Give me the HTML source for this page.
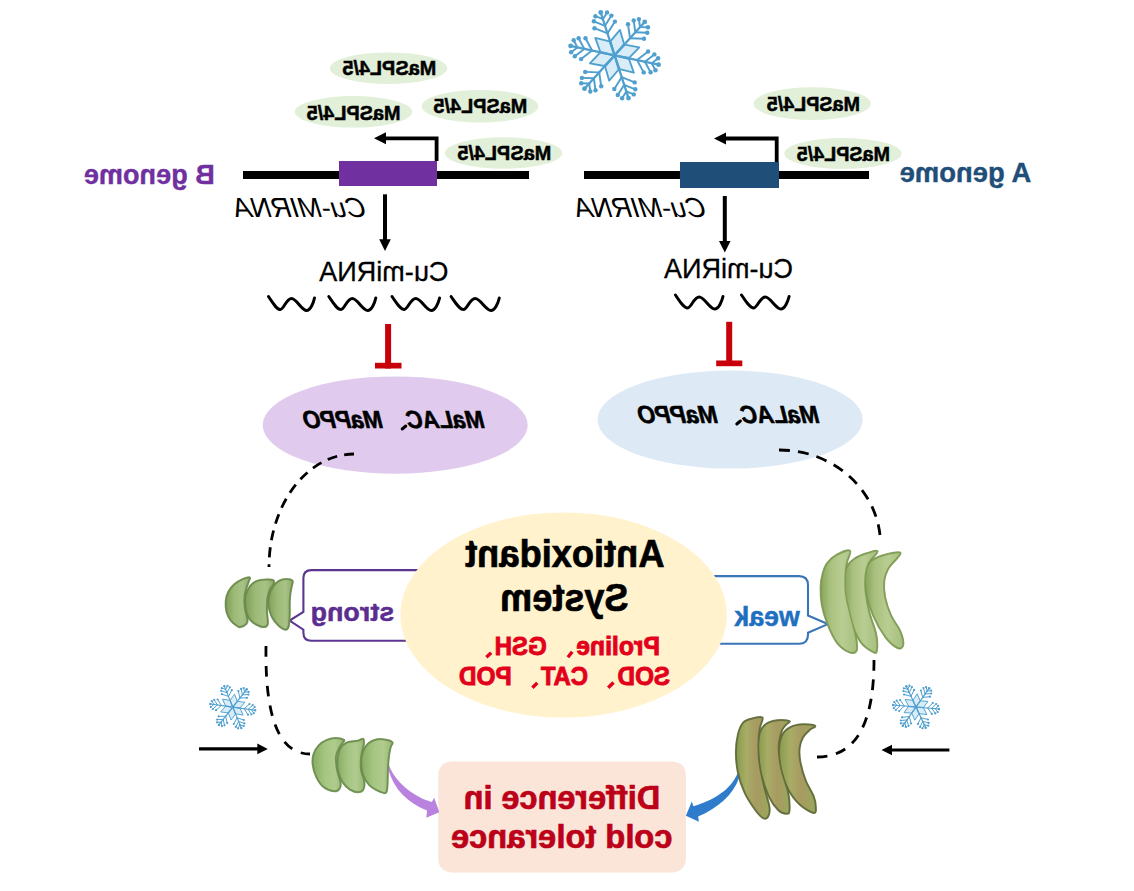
<!DOCTYPE html>
<html><head><meta charset="utf-8"><style>
html,body{margin:0;padding:0;background:#fff;}
svg{display:block;font-family:"Liberation Sans",sans-serif;}
</style></head><body>
<svg width="1134" height="891" viewBox="0 0 1134 891">
<rect width="1134" height="891" fill="#fff"/>
<path d="M614.6,55.3 L619.6,69.2 L633.9,72.7 L628.9,58.8 Z" fill="#d9edf8" stroke="#4f9fcf" stroke-width="1.84" stroke-linejoin="round"/>
<path d="M614.6,55.3 L605.1,66.6 L609.2,80.7 L618.7,69.5 Z" fill="#d9edf8" stroke="#4f9fcf" stroke-width="1.84" stroke-linejoin="round"/>
<path d="M614.6,55.3 L600.1,52.7 L589.9,63.3 L604.4,66.0 Z" fill="#d9edf8" stroke="#4f9fcf" stroke-width="1.84" stroke-linejoin="round"/>
<path d="M614.6,55.3 L609.6,41.4 L595.3,37.9 L600.3,51.8 Z" fill="#d9edf8" stroke="#4f9fcf" stroke-width="1.84" stroke-linejoin="round"/>
<path d="M614.6,55.3 L624.1,44.0 L620.0,29.9 L610.5,41.1 Z" fill="#d9edf8" stroke="#4f9fcf" stroke-width="1.84" stroke-linejoin="round"/>
<path d="M614.6,55.3 L629.1,57.9 L639.3,47.3 L624.8,44.6 Z" fill="#d9edf8" stroke="#4f9fcf" stroke-width="1.84" stroke-linejoin="round"/>
<line x1="614.6" y1="55.3" x2="658.6" y2="64.7" stroke="#4f9fcf" stroke-width="2.30" stroke-linecap="round"/>
<circle cx="658.6" cy="64.7" r="2.40" fill="#4f9fcf"/>
<line x1="637.1" y1="60.1" x2="643.7" y2="72.4" stroke="#4f9fcf" stroke-width="1.95" stroke-linecap="round"/>
<circle cx="643.7" cy="72.4" r="2.20" fill="#4f9fcf"/>
<line x1="637.1" y1="60.1" x2="648.1" y2="51.5" stroke="#4f9fcf" stroke-width="1.95" stroke-linecap="round"/>
<circle cx="648.1" cy="51.5" r="2.20" fill="#4f9fcf"/>
<line x1="644.9" y1="61.7" x2="650.6" y2="72.3" stroke="#4f9fcf" stroke-width="1.95" stroke-linecap="round"/>
<circle cx="650.6" cy="72.3" r="2.20" fill="#4f9fcf"/>
<line x1="644.9" y1="61.7" x2="654.4" y2="54.4" stroke="#4f9fcf" stroke-width="1.95" stroke-linecap="round"/>
<circle cx="654.4" cy="54.4" r="2.20" fill="#4f9fcf"/>
<line x1="651.8" y1="63.2" x2="655.5" y2="70.3" stroke="#4f9fcf" stroke-width="1.95" stroke-linecap="round"/>
<circle cx="655.5" cy="70.3" r="2.20" fill="#4f9fcf"/>
<line x1="651.8" y1="63.2" x2="658.1" y2="58.3" stroke="#4f9fcf" stroke-width="1.95" stroke-linecap="round"/>
<circle cx="658.1" cy="58.3" r="2.20" fill="#4f9fcf"/>
<line x1="614.6" y1="55.3" x2="628.5" y2="98.1" stroke="#4f9fcf" stroke-width="2.30" stroke-linecap="round"/>
<circle cx="628.5" cy="98.1" r="2.40" fill="#4f9fcf"/>
<line x1="621.7" y1="77.2" x2="614.3" y2="89.0" stroke="#4f9fcf" stroke-width="1.95" stroke-linecap="round"/>
<circle cx="614.3" cy="89.0" r="2.20" fill="#4f9fcf"/>
<line x1="621.7" y1="77.2" x2="634.7" y2="82.4" stroke="#4f9fcf" stroke-width="1.95" stroke-linecap="round"/>
<circle cx="634.7" cy="82.4" r="2.20" fill="#4f9fcf"/>
<line x1="624.2" y1="84.8" x2="617.8" y2="95.0" stroke="#4f9fcf" stroke-width="1.95" stroke-linecap="round"/>
<circle cx="617.8" cy="95.0" r="2.20" fill="#4f9fcf"/>
<line x1="624.2" y1="84.8" x2="635.3" y2="89.3" stroke="#4f9fcf" stroke-width="1.95" stroke-linecap="round"/>
<circle cx="635.3" cy="89.3" r="2.20" fill="#4f9fcf"/>
<line x1="626.3" y1="91.4" x2="622.1" y2="98.2" stroke="#4f9fcf" stroke-width="1.95" stroke-linecap="round"/>
<circle cx="622.1" cy="98.2" r="2.20" fill="#4f9fcf"/>
<line x1="626.3" y1="91.4" x2="633.8" y2="94.4" stroke="#4f9fcf" stroke-width="1.95" stroke-linecap="round"/>
<circle cx="633.8" cy="94.4" r="2.20" fill="#4f9fcf"/>
<line x1="614.6" y1="55.3" x2="584.5" y2="88.7" stroke="#4f9fcf" stroke-width="2.30" stroke-linecap="round"/>
<circle cx="584.5" cy="88.7" r="2.40" fill="#4f9fcf"/>
<line x1="599.2" y1="72.4" x2="585.2" y2="71.9" stroke="#4f9fcf" stroke-width="1.95" stroke-linecap="round"/>
<circle cx="585.2" cy="71.9" r="2.20" fill="#4f9fcf"/>
<line x1="599.2" y1="72.4" x2="601.2" y2="86.3" stroke="#4f9fcf" stroke-width="1.95" stroke-linecap="round"/>
<circle cx="601.2" cy="86.3" r="2.20" fill="#4f9fcf"/>
<line x1="593.9" y1="78.3" x2="581.9" y2="77.9" stroke="#4f9fcf" stroke-width="1.95" stroke-linecap="round"/>
<circle cx="581.9" cy="77.9" r="2.20" fill="#4f9fcf"/>
<line x1="593.9" y1="78.3" x2="595.5" y2="90.2" stroke="#4f9fcf" stroke-width="1.95" stroke-linecap="round"/>
<circle cx="595.5" cy="90.2" r="2.20" fill="#4f9fcf"/>
<line x1="589.2" y1="83.5" x2="581.2" y2="83.3" stroke="#4f9fcf" stroke-width="1.95" stroke-linecap="round"/>
<circle cx="581.2" cy="83.3" r="2.20" fill="#4f9fcf"/>
<line x1="589.2" y1="83.5" x2="590.3" y2="91.5" stroke="#4f9fcf" stroke-width="1.95" stroke-linecap="round"/>
<circle cx="590.3" cy="91.5" r="2.20" fill="#4f9fcf"/>
<line x1="614.6" y1="55.3" x2="570.6" y2="45.9" stroke="#4f9fcf" stroke-width="2.30" stroke-linecap="round"/>
<circle cx="570.6" cy="45.9" r="2.40" fill="#4f9fcf"/>
<line x1="592.1" y1="50.5" x2="585.5" y2="38.2" stroke="#4f9fcf" stroke-width="1.95" stroke-linecap="round"/>
<circle cx="585.5" cy="38.2" r="2.20" fill="#4f9fcf"/>
<line x1="592.1" y1="50.5" x2="581.1" y2="59.1" stroke="#4f9fcf" stroke-width="1.95" stroke-linecap="round"/>
<circle cx="581.1" cy="59.1" r="2.20" fill="#4f9fcf"/>
<line x1="584.3" y1="48.9" x2="578.6" y2="38.3" stroke="#4f9fcf" stroke-width="1.95" stroke-linecap="round"/>
<circle cx="578.6" cy="38.3" r="2.20" fill="#4f9fcf"/>
<line x1="584.3" y1="48.9" x2="574.8" y2="56.2" stroke="#4f9fcf" stroke-width="1.95" stroke-linecap="round"/>
<circle cx="574.8" cy="56.2" r="2.20" fill="#4f9fcf"/>
<line x1="577.4" y1="47.4" x2="573.7" y2="40.3" stroke="#4f9fcf" stroke-width="1.95" stroke-linecap="round"/>
<circle cx="573.7" cy="40.3" r="2.20" fill="#4f9fcf"/>
<line x1="577.4" y1="47.4" x2="571.1" y2="52.3" stroke="#4f9fcf" stroke-width="1.95" stroke-linecap="round"/>
<circle cx="571.1" cy="52.3" r="2.20" fill="#4f9fcf"/>
<line x1="614.6" y1="55.3" x2="600.7" y2="12.5" stroke="#4f9fcf" stroke-width="2.30" stroke-linecap="round"/>
<circle cx="600.7" cy="12.5" r="2.40" fill="#4f9fcf"/>
<line x1="607.5" y1="33.4" x2="614.9" y2="21.6" stroke="#4f9fcf" stroke-width="1.95" stroke-linecap="round"/>
<circle cx="614.9" cy="21.6" r="2.20" fill="#4f9fcf"/>
<line x1="607.5" y1="33.4" x2="594.5" y2="28.2" stroke="#4f9fcf" stroke-width="1.95" stroke-linecap="round"/>
<circle cx="594.5" cy="28.2" r="2.20" fill="#4f9fcf"/>
<line x1="605.0" y1="25.8" x2="611.4" y2="15.6" stroke="#4f9fcf" stroke-width="1.95" stroke-linecap="round"/>
<circle cx="611.4" cy="15.6" r="2.20" fill="#4f9fcf"/>
<line x1="605.0" y1="25.8" x2="593.9" y2="21.3" stroke="#4f9fcf" stroke-width="1.95" stroke-linecap="round"/>
<circle cx="593.9" cy="21.3" r="2.20" fill="#4f9fcf"/>
<line x1="602.9" y1="19.2" x2="607.1" y2="12.4" stroke="#4f9fcf" stroke-width="1.95" stroke-linecap="round"/>
<circle cx="607.1" cy="12.4" r="2.20" fill="#4f9fcf"/>
<line x1="602.9" y1="19.2" x2="595.4" y2="16.2" stroke="#4f9fcf" stroke-width="1.95" stroke-linecap="round"/>
<circle cx="595.4" cy="16.2" r="2.20" fill="#4f9fcf"/>
<line x1="614.6" y1="55.3" x2="644.7" y2="21.9" stroke="#4f9fcf" stroke-width="2.30" stroke-linecap="round"/>
<circle cx="644.7" cy="21.9" r="2.40" fill="#4f9fcf"/>
<line x1="630.0" y1="38.2" x2="644.0" y2="38.7" stroke="#4f9fcf" stroke-width="1.95" stroke-linecap="round"/>
<circle cx="644.0" cy="38.7" r="2.20" fill="#4f9fcf"/>
<line x1="630.0" y1="38.2" x2="628.0" y2="24.3" stroke="#4f9fcf" stroke-width="1.95" stroke-linecap="round"/>
<circle cx="628.0" cy="24.3" r="2.20" fill="#4f9fcf"/>
<line x1="635.3" y1="32.3" x2="647.3" y2="32.7" stroke="#4f9fcf" stroke-width="1.95" stroke-linecap="round"/>
<circle cx="647.3" cy="32.7" r="2.20" fill="#4f9fcf"/>
<line x1="635.3" y1="32.3" x2="633.7" y2="20.4" stroke="#4f9fcf" stroke-width="1.95" stroke-linecap="round"/>
<circle cx="633.7" cy="20.4" r="2.20" fill="#4f9fcf"/>
<line x1="640.0" y1="27.1" x2="648.0" y2="27.3" stroke="#4f9fcf" stroke-width="1.95" stroke-linecap="round"/>
<circle cx="648.0" cy="27.3" r="2.20" fill="#4f9fcf"/>
<line x1="640.0" y1="27.1" x2="638.9" y2="19.1" stroke="#4f9fcf" stroke-width="1.95" stroke-linecap="round"/>
<circle cx="638.9" cy="19.1" r="2.20" fill="#4f9fcf"/>
<path d="M232.8,707.1 L235.8,713.9 L243.1,715.1 L240.1,708.3 Z" fill="#d9edf8" stroke="#4f9fcf" stroke-width="0.92" stroke-linejoin="round"/>
<path d="M232.8,707.1 L228.4,713.1 L231.0,720.0 L235.4,714.1 Z" fill="#d9edf8" stroke="#4f9fcf" stroke-width="0.92" stroke-linejoin="round"/>
<path d="M232.8,707.1 L225.4,706.3 L220.7,712.0 L228.1,712.8 Z" fill="#d9edf8" stroke="#4f9fcf" stroke-width="0.92" stroke-linejoin="round"/>
<path d="M232.8,707.1 L229.8,700.3 L222.5,699.1 L225.5,705.9 Z" fill="#d9edf8" stroke="#4f9fcf" stroke-width="0.92" stroke-linejoin="round"/>
<path d="M232.8,707.1 L237.2,701.1 L234.6,694.2 L230.2,700.1 Z" fill="#d9edf8" stroke="#4f9fcf" stroke-width="0.92" stroke-linejoin="round"/>
<path d="M232.8,707.1 L240.2,707.9 L244.9,702.2 L237.5,701.4 Z" fill="#d9edf8" stroke="#4f9fcf" stroke-width="0.92" stroke-linejoin="round"/>
<line x1="232.8" y1="707.1" x2="255.2" y2="710.2" stroke="#4f9fcf" stroke-width="1.16" stroke-linecap="round"/>
<circle cx="255.2" cy="710.2" r="1.21" fill="#4f9fcf"/>
<line x1="244.2" y1="708.7" x2="248.0" y2="714.7" stroke="#4f9fcf" stroke-width="0.98" stroke-linecap="round"/>
<circle cx="248.0" cy="714.7" r="1.10" fill="#4f9fcf"/>
<line x1="244.2" y1="708.7" x2="249.5" y2="704.0" stroke="#4f9fcf" stroke-width="0.98" stroke-linecap="round"/>
<circle cx="249.5" cy="704.0" r="1.10" fill="#4f9fcf"/>
<line x1="248.2" y1="709.3" x2="251.4" y2="714.4" stroke="#4f9fcf" stroke-width="0.98" stroke-linecap="round"/>
<circle cx="251.4" cy="714.4" r="1.10" fill="#4f9fcf"/>
<line x1="248.2" y1="709.3" x2="252.7" y2="705.2" stroke="#4f9fcf" stroke-width="0.98" stroke-linecap="round"/>
<circle cx="252.7" cy="705.2" r="1.10" fill="#4f9fcf"/>
<line x1="251.7" y1="709.8" x2="253.8" y2="713.2" stroke="#4f9fcf" stroke-width="0.98" stroke-linecap="round"/>
<circle cx="253.8" cy="713.2" r="1.10" fill="#4f9fcf"/>
<line x1="251.7" y1="709.8" x2="254.7" y2="707.1" stroke="#4f9fcf" stroke-width="0.98" stroke-linecap="round"/>
<circle cx="254.7" cy="707.1" r="1.10" fill="#4f9fcf"/>
<line x1="232.8" y1="707.1" x2="241.3" y2="728.1" stroke="#4f9fcf" stroke-width="1.16" stroke-linecap="round"/>
<circle cx="241.3" cy="728.1" r="1.21" fill="#4f9fcf"/>
<line x1="237.1" y1="717.8" x2="233.8" y2="724.0" stroke="#4f9fcf" stroke-width="0.98" stroke-linecap="round"/>
<circle cx="233.8" cy="724.0" r="1.10" fill="#4f9fcf"/>
<line x1="237.1" y1="717.8" x2="243.8" y2="720.0" stroke="#4f9fcf" stroke-width="0.98" stroke-linecap="round"/>
<circle cx="243.8" cy="720.0" r="1.10" fill="#4f9fcf"/>
<line x1="238.6" y1="721.5" x2="235.8" y2="726.9" stroke="#4f9fcf" stroke-width="0.98" stroke-linecap="round"/>
<circle cx="235.8" cy="726.9" r="1.10" fill="#4f9fcf"/>
<line x1="238.6" y1="721.5" x2="244.4" y2="723.4" stroke="#4f9fcf" stroke-width="0.98" stroke-linecap="round"/>
<circle cx="244.4" cy="723.4" r="1.10" fill="#4f9fcf"/>
<line x1="239.9" y1="724.8" x2="238.1" y2="728.3" stroke="#4f9fcf" stroke-width="0.98" stroke-linecap="round"/>
<circle cx="238.1" cy="728.3" r="1.10" fill="#4f9fcf"/>
<line x1="239.9" y1="724.8" x2="243.8" y2="726.0" stroke="#4f9fcf" stroke-width="0.98" stroke-linecap="round"/>
<circle cx="243.8" cy="726.0" r="1.10" fill="#4f9fcf"/>
<line x1="232.8" y1="707.1" x2="218.9" y2="724.9" stroke="#4f9fcf" stroke-width="1.16" stroke-linecap="round"/>
<circle cx="218.9" cy="724.9" r="1.21" fill="#4f9fcf"/>
<line x1="225.7" y1="716.2" x2="218.7" y2="716.4" stroke="#4f9fcf" stroke-width="0.98" stroke-linecap="round"/>
<circle cx="218.7" cy="716.4" r="1.10" fill="#4f9fcf"/>
<line x1="225.7" y1="716.2" x2="227.2" y2="723.1" stroke="#4f9fcf" stroke-width="0.98" stroke-linecap="round"/>
<circle cx="227.2" cy="723.1" r="1.10" fill="#4f9fcf"/>
<line x1="223.2" y1="719.4" x2="217.2" y2="719.6" stroke="#4f9fcf" stroke-width="0.98" stroke-linecap="round"/>
<circle cx="217.2" cy="719.6" r="1.10" fill="#4f9fcf"/>
<line x1="223.2" y1="719.4" x2="224.5" y2="725.3" stroke="#4f9fcf" stroke-width="0.98" stroke-linecap="round"/>
<circle cx="224.5" cy="725.3" r="1.10" fill="#4f9fcf"/>
<line x1="221.1" y1="722.1" x2="217.0" y2="722.3" stroke="#4f9fcf" stroke-width="0.98" stroke-linecap="round"/>
<circle cx="217.0" cy="722.3" r="1.10" fill="#4f9fcf"/>
<line x1="221.1" y1="722.1" x2="221.9" y2="726.1" stroke="#4f9fcf" stroke-width="0.98" stroke-linecap="round"/>
<circle cx="221.9" cy="726.1" r="1.10" fill="#4f9fcf"/>
<line x1="232.8" y1="707.1" x2="210.4" y2="704.0" stroke="#4f9fcf" stroke-width="1.16" stroke-linecap="round"/>
<circle cx="210.4" cy="704.0" r="1.21" fill="#4f9fcf"/>
<line x1="221.4" y1="705.5" x2="217.6" y2="699.5" stroke="#4f9fcf" stroke-width="0.98" stroke-linecap="round"/>
<circle cx="217.6" cy="699.5" r="1.10" fill="#4f9fcf"/>
<line x1="221.4" y1="705.5" x2="216.1" y2="710.2" stroke="#4f9fcf" stroke-width="0.98" stroke-linecap="round"/>
<circle cx="216.1" cy="710.2" r="1.10" fill="#4f9fcf"/>
<line x1="217.4" y1="704.9" x2="214.2" y2="699.8" stroke="#4f9fcf" stroke-width="0.98" stroke-linecap="round"/>
<circle cx="214.2" cy="699.8" r="1.10" fill="#4f9fcf"/>
<line x1="217.4" y1="704.9" x2="212.9" y2="709.0" stroke="#4f9fcf" stroke-width="0.98" stroke-linecap="round"/>
<circle cx="212.9" cy="709.0" r="1.10" fill="#4f9fcf"/>
<line x1="213.9" y1="704.4" x2="211.8" y2="701.0" stroke="#4f9fcf" stroke-width="0.98" stroke-linecap="round"/>
<circle cx="211.8" cy="701.0" r="1.10" fill="#4f9fcf"/>
<line x1="213.9" y1="704.4" x2="210.9" y2="707.1" stroke="#4f9fcf" stroke-width="0.98" stroke-linecap="round"/>
<circle cx="210.9" cy="707.1" r="1.10" fill="#4f9fcf"/>
<line x1="232.8" y1="707.1" x2="224.3" y2="686.1" stroke="#4f9fcf" stroke-width="1.16" stroke-linecap="round"/>
<circle cx="224.3" cy="686.1" r="1.21" fill="#4f9fcf"/>
<line x1="228.5" y1="696.4" x2="231.8" y2="690.2" stroke="#4f9fcf" stroke-width="0.98" stroke-linecap="round"/>
<circle cx="231.8" cy="690.2" r="1.10" fill="#4f9fcf"/>
<line x1="228.5" y1="696.4" x2="221.8" y2="694.2" stroke="#4f9fcf" stroke-width="0.98" stroke-linecap="round"/>
<circle cx="221.8" cy="694.2" r="1.10" fill="#4f9fcf"/>
<line x1="227.0" y1="692.7" x2="229.8" y2="687.3" stroke="#4f9fcf" stroke-width="0.98" stroke-linecap="round"/>
<circle cx="229.8" cy="687.3" r="1.10" fill="#4f9fcf"/>
<line x1="227.0" y1="692.7" x2="221.2" y2="690.8" stroke="#4f9fcf" stroke-width="0.98" stroke-linecap="round"/>
<circle cx="221.2" cy="690.8" r="1.10" fill="#4f9fcf"/>
<line x1="225.7" y1="689.4" x2="227.5" y2="685.9" stroke="#4f9fcf" stroke-width="0.98" stroke-linecap="round"/>
<circle cx="227.5" cy="685.9" r="1.10" fill="#4f9fcf"/>
<line x1="225.7" y1="689.4" x2="221.8" y2="688.2" stroke="#4f9fcf" stroke-width="0.98" stroke-linecap="round"/>
<circle cx="221.8" cy="688.2" r="1.10" fill="#4f9fcf"/>
<line x1="232.8" y1="707.1" x2="246.7" y2="689.3" stroke="#4f9fcf" stroke-width="1.16" stroke-linecap="round"/>
<circle cx="246.7" cy="689.3" r="1.21" fill="#4f9fcf"/>
<line x1="239.9" y1="698.0" x2="246.9" y2="697.8" stroke="#4f9fcf" stroke-width="0.98" stroke-linecap="round"/>
<circle cx="246.9" cy="697.8" r="1.10" fill="#4f9fcf"/>
<line x1="239.9" y1="698.0" x2="238.4" y2="691.1" stroke="#4f9fcf" stroke-width="0.98" stroke-linecap="round"/>
<circle cx="238.4" cy="691.1" r="1.10" fill="#4f9fcf"/>
<line x1="242.4" y1="694.8" x2="248.4" y2="694.6" stroke="#4f9fcf" stroke-width="0.98" stroke-linecap="round"/>
<circle cx="248.4" cy="694.6" r="1.10" fill="#4f9fcf"/>
<line x1="242.4" y1="694.8" x2="241.1" y2="688.9" stroke="#4f9fcf" stroke-width="0.98" stroke-linecap="round"/>
<circle cx="241.1" cy="688.9" r="1.10" fill="#4f9fcf"/>
<line x1="244.5" y1="692.1" x2="248.6" y2="691.9" stroke="#4f9fcf" stroke-width="0.98" stroke-linecap="round"/>
<circle cx="248.6" cy="691.9" r="1.10" fill="#4f9fcf"/>
<line x1="244.5" y1="692.1" x2="243.7" y2="688.1" stroke="#4f9fcf" stroke-width="0.98" stroke-linecap="round"/>
<circle cx="243.7" cy="688.1" r="1.10" fill="#4f9fcf"/>
<path d="M916.0,707.0 L919.4,713.7 L926.9,714.6 L923.5,707.9 Z" fill="#d9edf8" stroke="#4f9fcf" stroke-width="0.94" stroke-linejoin="round"/>
<path d="M916.0,707.0 L911.9,713.3 L914.8,720.2 L919.0,713.9 Z" fill="#d9edf8" stroke="#4f9fcf" stroke-width="0.94" stroke-linejoin="round"/>
<path d="M916.0,707.0 L908.5,706.6 L904.0,712.6 L911.5,713.1 Z" fill="#d9edf8" stroke="#4f9fcf" stroke-width="0.94" stroke-linejoin="round"/>
<path d="M916.0,707.0 L912.6,700.3 L905.1,699.4 L908.5,706.1 Z" fill="#d9edf8" stroke="#4f9fcf" stroke-width="0.94" stroke-linejoin="round"/>
<path d="M916.0,707.0 L920.1,700.7 L917.2,693.8 L913.0,700.1 Z" fill="#d9edf8" stroke="#4f9fcf" stroke-width="0.94" stroke-linejoin="round"/>
<path d="M916.0,707.0 L923.5,707.4 L928.0,701.4 L920.5,700.9 Z" fill="#d9edf8" stroke="#4f9fcf" stroke-width="0.94" stroke-linejoin="round"/>
<line x1="916.0" y1="707.0" x2="938.9" y2="709.0" stroke="#4f9fcf" stroke-width="1.18" stroke-linecap="round"/>
<circle cx="938.9" cy="709.0" r="1.23" fill="#4f9fcf"/>
<line x1="927.7" y1="708.0" x2="931.8" y2="713.9" stroke="#4f9fcf" stroke-width="1.00" stroke-linecap="round"/>
<circle cx="931.8" cy="713.9" r="1.12" fill="#4f9fcf"/>
<line x1="927.7" y1="708.0" x2="932.8" y2="703.0" stroke="#4f9fcf" stroke-width="1.00" stroke-linecap="round"/>
<circle cx="932.8" cy="703.0" r="1.12" fill="#4f9fcf"/>
<line x1="931.8" y1="708.4" x2="935.3" y2="713.4" stroke="#4f9fcf" stroke-width="1.00" stroke-linecap="round"/>
<circle cx="935.3" cy="713.4" r="1.12" fill="#4f9fcf"/>
<line x1="931.8" y1="708.4" x2="936.1" y2="704.0" stroke="#4f9fcf" stroke-width="1.00" stroke-linecap="round"/>
<circle cx="936.1" cy="704.0" r="1.12" fill="#4f9fcf"/>
<line x1="935.3" y1="708.7" x2="937.7" y2="712.0" stroke="#4f9fcf" stroke-width="1.00" stroke-linecap="round"/>
<circle cx="937.7" cy="712.0" r="1.12" fill="#4f9fcf"/>
<line x1="935.3" y1="708.7" x2="938.2" y2="705.8" stroke="#4f9fcf" stroke-width="1.00" stroke-linecap="round"/>
<circle cx="938.2" cy="705.8" r="1.12" fill="#4f9fcf"/>
<line x1="916.0" y1="707.0" x2="925.7" y2="727.8" stroke="#4f9fcf" stroke-width="1.18" stroke-linecap="round"/>
<circle cx="925.7" cy="727.8" r="1.23" fill="#4f9fcf"/>
<line x1="921.0" y1="717.7" x2="917.9" y2="724.1" stroke="#4f9fcf" stroke-width="1.00" stroke-linecap="round"/>
<circle cx="917.9" cy="724.1" r="1.12" fill="#4f9fcf"/>
<line x1="921.0" y1="717.7" x2="927.9" y2="719.5" stroke="#4f9fcf" stroke-width="1.00" stroke-linecap="round"/>
<circle cx="927.9" cy="719.5" r="1.12" fill="#4f9fcf"/>
<line x1="922.7" y1="721.4" x2="920.1" y2="726.9" stroke="#4f9fcf" stroke-width="1.00" stroke-linecap="round"/>
<circle cx="920.1" cy="726.9" r="1.12" fill="#4f9fcf"/>
<line x1="922.7" y1="721.4" x2="928.6" y2="722.9" stroke="#4f9fcf" stroke-width="1.00" stroke-linecap="round"/>
<circle cx="928.6" cy="722.9" r="1.12" fill="#4f9fcf"/>
<line x1="924.2" y1="724.6" x2="922.5" y2="728.3" stroke="#4f9fcf" stroke-width="1.00" stroke-linecap="round"/>
<circle cx="922.5" cy="728.3" r="1.12" fill="#4f9fcf"/>
<line x1="924.2" y1="724.6" x2="928.2" y2="725.7" stroke="#4f9fcf" stroke-width="1.00" stroke-linecap="round"/>
<circle cx="928.2" cy="725.7" r="1.12" fill="#4f9fcf"/>
<line x1="916.0" y1="707.0" x2="902.8" y2="725.8" stroke="#4f9fcf" stroke-width="1.18" stroke-linecap="round"/>
<circle cx="902.8" cy="725.8" r="1.23" fill="#4f9fcf"/>
<line x1="909.3" y1="716.6" x2="902.1" y2="717.3" stroke="#4f9fcf" stroke-width="1.00" stroke-linecap="round"/>
<circle cx="902.1" cy="717.3" r="1.12" fill="#4f9fcf"/>
<line x1="909.3" y1="716.6" x2="911.1" y2="723.5" stroke="#4f9fcf" stroke-width="1.00" stroke-linecap="round"/>
<circle cx="911.1" cy="723.5" r="1.12" fill="#4f9fcf"/>
<line x1="906.9" y1="720.0" x2="900.8" y2="720.5" stroke="#4f9fcf" stroke-width="1.00" stroke-linecap="round"/>
<circle cx="900.8" cy="720.5" r="1.12" fill="#4f9fcf"/>
<line x1="906.9" y1="720.0" x2="908.5" y2="725.9" stroke="#4f9fcf" stroke-width="1.00" stroke-linecap="round"/>
<circle cx="908.5" cy="725.9" r="1.12" fill="#4f9fcf"/>
<line x1="904.9" y1="722.9" x2="900.8" y2="723.3" stroke="#4f9fcf" stroke-width="1.00" stroke-linecap="round"/>
<circle cx="900.8" cy="723.3" r="1.12" fill="#4f9fcf"/>
<line x1="904.9" y1="722.9" x2="905.9" y2="726.9" stroke="#4f9fcf" stroke-width="1.00" stroke-linecap="round"/>
<circle cx="905.9" cy="726.9" r="1.12" fill="#4f9fcf"/>
<line x1="916.0" y1="707.0" x2="893.1" y2="705.0" stroke="#4f9fcf" stroke-width="1.18" stroke-linecap="round"/>
<circle cx="893.1" cy="705.0" r="1.23" fill="#4f9fcf"/>
<line x1="904.3" y1="706.0" x2="900.2" y2="700.1" stroke="#4f9fcf" stroke-width="1.00" stroke-linecap="round"/>
<circle cx="900.2" cy="700.1" r="1.12" fill="#4f9fcf"/>
<line x1="904.3" y1="706.0" x2="899.2" y2="711.0" stroke="#4f9fcf" stroke-width="1.00" stroke-linecap="round"/>
<circle cx="899.2" cy="711.0" r="1.12" fill="#4f9fcf"/>
<line x1="900.2" y1="705.6" x2="896.7" y2="700.6" stroke="#4f9fcf" stroke-width="1.00" stroke-linecap="round"/>
<circle cx="896.7" cy="700.6" r="1.12" fill="#4f9fcf"/>
<line x1="900.2" y1="705.6" x2="895.9" y2="710.0" stroke="#4f9fcf" stroke-width="1.00" stroke-linecap="round"/>
<circle cx="895.9" cy="710.0" r="1.12" fill="#4f9fcf"/>
<line x1="896.7" y1="705.3" x2="894.3" y2="702.0" stroke="#4f9fcf" stroke-width="1.00" stroke-linecap="round"/>
<circle cx="894.3" cy="702.0" r="1.12" fill="#4f9fcf"/>
<line x1="896.7" y1="705.3" x2="893.8" y2="708.2" stroke="#4f9fcf" stroke-width="1.00" stroke-linecap="round"/>
<circle cx="893.8" cy="708.2" r="1.12" fill="#4f9fcf"/>
<line x1="916.0" y1="707.0" x2="906.3" y2="686.2" stroke="#4f9fcf" stroke-width="1.18" stroke-linecap="round"/>
<circle cx="906.3" cy="686.2" r="1.23" fill="#4f9fcf"/>
<line x1="911.0" y1="696.3" x2="914.1" y2="689.9" stroke="#4f9fcf" stroke-width="1.00" stroke-linecap="round"/>
<circle cx="914.1" cy="689.9" r="1.12" fill="#4f9fcf"/>
<line x1="911.0" y1="696.3" x2="904.1" y2="694.5" stroke="#4f9fcf" stroke-width="1.00" stroke-linecap="round"/>
<circle cx="904.1" cy="694.5" r="1.12" fill="#4f9fcf"/>
<line x1="909.3" y1="692.6" x2="911.9" y2="687.1" stroke="#4f9fcf" stroke-width="1.00" stroke-linecap="round"/>
<circle cx="911.9" cy="687.1" r="1.12" fill="#4f9fcf"/>
<line x1="909.3" y1="692.6" x2="903.4" y2="691.1" stroke="#4f9fcf" stroke-width="1.00" stroke-linecap="round"/>
<circle cx="903.4" cy="691.1" r="1.12" fill="#4f9fcf"/>
<line x1="907.8" y1="689.4" x2="909.5" y2="685.7" stroke="#4f9fcf" stroke-width="1.00" stroke-linecap="round"/>
<circle cx="909.5" cy="685.7" r="1.12" fill="#4f9fcf"/>
<line x1="907.8" y1="689.4" x2="903.8" y2="688.3" stroke="#4f9fcf" stroke-width="1.00" stroke-linecap="round"/>
<circle cx="903.8" cy="688.3" r="1.12" fill="#4f9fcf"/>
<line x1="916.0" y1="707.0" x2="929.2" y2="688.2" stroke="#4f9fcf" stroke-width="1.18" stroke-linecap="round"/>
<circle cx="929.2" cy="688.2" r="1.23" fill="#4f9fcf"/>
<line x1="922.7" y1="697.4" x2="929.9" y2="696.7" stroke="#4f9fcf" stroke-width="1.00" stroke-linecap="round"/>
<circle cx="929.9" cy="696.7" r="1.12" fill="#4f9fcf"/>
<line x1="922.7" y1="697.4" x2="920.9" y2="690.5" stroke="#4f9fcf" stroke-width="1.00" stroke-linecap="round"/>
<circle cx="920.9" cy="690.5" r="1.12" fill="#4f9fcf"/>
<line x1="925.1" y1="694.0" x2="931.2" y2="693.5" stroke="#4f9fcf" stroke-width="1.00" stroke-linecap="round"/>
<circle cx="931.2" cy="693.5" r="1.12" fill="#4f9fcf"/>
<line x1="925.1" y1="694.0" x2="923.5" y2="688.1" stroke="#4f9fcf" stroke-width="1.00" stroke-linecap="round"/>
<circle cx="923.5" cy="688.1" r="1.12" fill="#4f9fcf"/>
<line x1="927.1" y1="691.1" x2="931.2" y2="690.7" stroke="#4f9fcf" stroke-width="1.00" stroke-linecap="round"/>
<circle cx="931.2" cy="690.7" r="1.12" fill="#4f9fcf"/>
<line x1="927.1" y1="691.1" x2="926.1" y2="687.1" stroke="#4f9fcf" stroke-width="1.00" stroke-linecap="round"/>
<circle cx="926.1" cy="687.1" r="1.12" fill="#4f9fcf"/>
<rect x="243" y="171" width="286" height="8" fill="#000"/>
<rect x="339" y="161" width="98" height="25" fill="#7030a0"/>
<rect x="584" y="171" width="285" height="8" fill="#000"/>
<rect x="680" y="162" width="99" height="26" fill="#1f4e79"/>
<path d="M436.6,161 V138.3 H385" fill="none" stroke="#000" stroke-width="3.8"/>
<path d="M374,138.3 L386,132.3 L386,144.3 Z" fill="#000"/>
<path d="M776.7,162 V138.5 H724" fill="none" stroke="#000" stroke-width="3.8"/>
<path d="M714,138.5 L726,132.5 L726,144.5 Z" fill="#000"/>
<ellipse cx="388.5" cy="68.2" rx="58.7" ry="15.8" fill="#e2efd9"/>
<ellipse cx="353.5" cy="111.8" rx="58.7" ry="15.8" fill="#e2efd9"/>
<ellipse cx="480.0" cy="106.2" rx="58.3" ry="16.3" fill="#e2efd9"/>
<ellipse cx="503.6" cy="153.0" rx="58.7" ry="15.7" fill="#e2efd9"/>
<ellipse cx="812.2" cy="103.7" rx="58.6" ry="16.4" fill="#e2efd9"/>
<ellipse cx="842.9" cy="153.4" rx="58.6" ry="15.4" fill="#e2efd9"/>
<line x1="385" y1="194.3" x2="385" y2="240" stroke="#000" stroke-width="4"/>
<path d="M379.2,239.3 L390.8,239.3 L385,251 Z" fill="#000"/>
<line x1="724.8" y1="196" x2="724.8" y2="242" stroke="#000" stroke-width="4"/>
<path d="M719,241 L730.6,241 L724.8,252.5 Z" fill="#000"/>
<path d="M268.5,296.5 c4.0,6 8.0,13 12.0,13 c3.0,0 6.0,-11 11.0,-11 c5.0,0 10.0,12 15.0,12 c4.0,0 7.0,-8 8.0,-12.5" fill="none" stroke="#000" stroke-width="3" stroke-linecap="round"/>
<path d="M328.8,296.5 c4.1,6 8.2,13 12.3,13 c3.1,0 6.1,-11 11.2,-11 c5.1,0 10.2,12 15.3,12 c4.1,0 7.2,-8 8.2,-12.5" fill="none" stroke="#000" stroke-width="3" stroke-linecap="round"/>
<path d="M392,296.5 c4.1,6 8.3,13 12.4,13 c3.1,0 6.2,-11 11.4,-11 c5.2,0 10.3,12 15.5,12 c4.1,0 7.2,-8 8.3,-12.5" fill="none" stroke="#000" stroke-width="3" stroke-linecap="round"/>
<path d="M451.1,296.5 c4.2,6 8.4,13 12.6,13 c3.1,0 6.3,-11 11.5,-11 c5.2,0 10.5,12 15.7,12 c4.2,0 7.3,-8 8.4,-12.5" fill="none" stroke="#000" stroke-width="3" stroke-linecap="round"/>
<path d="M675.4,295 c4.1,6 8.3,13 12.4,13 c3.1,0 6.2,-11 11.4,-11 c5.2,0 10.3,12 15.5,12 c4.1,0 7.2,-8 8.3,-12.5" fill="none" stroke="#000" stroke-width="3" stroke-linecap="round"/>
<path d="M741.5,295 c4.1,6 8.3,13 12.4,13 c3.1,0 6.2,-11 11.4,-11 c5.2,0 10.3,12 15.5,12 c4.1,0 7.2,-8 8.3,-12.5" fill="none" stroke="#000" stroke-width="3" stroke-linecap="round"/>
<rect x="385.1" y="324" width="6" height="44.5" fill="#c8000a"/><rect x="375" y="362.8" width="26.5" height="5.7" fill="#c8000a"/>
<rect x="726.2" y="321.8" width="6" height="44.2" fill="#c8000a"/><rect x="716.2" y="360.5" width="26.1" height="5.7" fill="#c8000a"/>
<ellipse cx="395.2" cy="425.1" rx="132.5" ry="48.7" fill="#e0cbee"/>
<ellipse cx="730.1" cy="419.6" rx="132.6" ry="49" fill="#dde9f5"/>
<path d="M354,454 A85,113 0 0 0 269,567" fill="none" stroke="#000" stroke-width="2.8" stroke-dasharray="10 7.03"/>
<path d="M266,646 C265,710 276,754 310,754" fill="none" stroke="#000" stroke-width="2.8" stroke-dasharray="10.5 9.35"/>
<path d="M779,450 A101,95 0 0 1 880,535" fill="none" stroke="#000" stroke-width="2.8" stroke-dasharray="11 8.07"/>
<path d="M874,660 C874,720 858,757 817,757" fill="none" stroke="#000" stroke-width="2.8" stroke-dasharray="10.5 8.88"/>
<path d="M420,570.1 H311.4 Q303.4,570.1 303.4,578.1 V612 L289.6,620.5 L303.4,629.7 V632.8 Q303.4,640.8 311.4,640.8 H420" fill="none" stroke="#5b3590" stroke-width="2.1" stroke-linejoin="miter"/>
<path d="M700,576.1 H799 Q808,576.1 808,585.1 V615.5 L827.9,624.1 L808,632.7 V634.8 Q808,643.8 799,643.8 H700" fill="none" stroke="#3a75b8" stroke-width="2.1"/>
<ellipse cx="563.6" cy="615" rx="163.3" ry="102.6" fill="#fff2cd"/>
<line x1="199" y1="748.9" x2="259" y2="748.9" stroke="#000" stroke-width="3.1"/><path d="M267.8,748.9 L257.3,743.6 L257.3,754.2 Z" fill="#000"/>
<line x1="891" y1="750" x2="949.4" y2="750" stroke="#000" stroke-width="3.1"/><path d="M881.5,750 L892,744.7 L892,755.3 Z" fill="#000"/>
<rect x="438.2" y="761.5" width="247.7" height="110.9" rx="13" fill="#fbe5d8"/>
<path d="M388.2,763.6 C393,777 404,790 423,799 L431.8,802.1 L434.2,797.8 L439.3,812.3 L426.3,817.8 L427,810.5 C408,803 394,790 388.2,769 Z" fill="#b982de"/>
<path d="M738.5,771 C733,786 720,798 693.4,806.3 L691.8,801.6 L685.9,815.8 L698.9,821.7 L698.1,816.6 C718,808 733,795 739,778 Z" fill="#2f7ccc"/>
<defs>
<linearGradient id="gw" x1="0" y1="0" x2="1" y2="0"><stop offset="0" stop-color="#86a35a"/><stop offset="0.25" stop-color="#a8c07e"/><stop offset="0.6" stop-color="#b9cd92"/><stop offset="1" stop-color="#a6bf7e"/></linearGradient>
<linearGradient id="gs" x1="0" y1="0" x2="1" y2="0"><stop offset="0" stop-color="#7f9f5a"/><stop offset="0.35" stop-color="#9cba76"/><stop offset="0.7" stop-color="#a8c286"/><stop offset="1" stop-color="#8fae6a"/></linearGradient>
<linearGradient id="gr" x1="0" y1="0" x2="1" y2="0"><stop offset="0" stop-color="#889a4c"/><stop offset="0.3" stop-color="#a7ad66"/><stop offset="0.6" stop-color="#a89a62"/><stop offset="1" stop-color="#9aa85c"/></linearGradient>
<linearGradient id="gb" x1="0" y1="0" x2="1" y2="0"><stop offset="0" stop-color="#89ad64"/><stop offset="0.4" stop-color="#a5c682"/><stop offset="0.7" stop-color="#b0cb8e"/><stop offset="1" stop-color="#98b874"/></linearGradient>
</defs>
<path d="M900.3,552.8 C899.4,551.9 894.7,552.7 890.9,553.5 C887.1,554.3 881.0,555.9 877.4,557.5 C873.8,559.1 871.3,560.0 869.3,562.9 C867.3,565.8 865.8,569.8 865.3,575.0 C864.8,580.2 865.3,587.1 866.6,593.9 C867.9,600.6 870.1,608.3 873.3,615.5 C876.4,622.7 881.5,631.6 885.5,637.0 C889.5,642.4 894.7,646.4 897.6,647.8 C900.5,649.1 902.5,647.8 903.0,645.1 C903.5,642.4 902.3,636.5 900.3,631.6 C898.3,626.7 893.5,621.3 890.9,615.5 C888.3,609.7 885.9,602.5 884.8,596.6 C883.7,590.8 883.5,585.1 884.1,580.4 C884.7,575.7 886.2,571.9 888.2,568.3 C890.2,564.7 894.3,561.5 896.3,558.9 C898.3,556.3 901.2,553.7 900.3,552.8 Z" fill="#7d9a52" stroke="#7d9a52" stroke-width="2.4" stroke-opacity="0.8"/>
<path d="M877.4,551.5 C877.1,549.9 870.4,552.3 866.6,553.5 C862.8,554.7 857.8,556.6 854.5,558.9 C851.2,561.1 848.7,563.4 847.0,567.0 C845.3,570.6 844.6,574.8 844.4,580.4 C844.2,586.0 844.5,593.4 845.7,600.6 C846.9,607.8 849.2,616.6 851.8,623.6 C854.4,630.6 857.6,637.7 861.2,642.4 C864.8,647.1 870.7,650.5 873.3,651.9 C875.9,653.2 876.2,653.4 876.7,650.5 C877.2,647.6 877.2,640.6 876.0,634.3 C874.8,628.0 871.1,620.0 869.3,612.8 C867.5,605.6 866.0,597.5 865.3,591.2 C864.6,584.9 864.8,579.7 865.3,575.0 C865.8,570.3 866.6,566.8 868.6,562.9 C870.6,559.0 877.7,553.1 877.4,551.5 Z" fill="#7d9a52" stroke="#7d9a52" stroke-width="2.4" stroke-opacity="0.8"/>
<path d="M849.8,550.8 C848.1,549.7 840.7,552.8 837.0,554.8 C833.3,556.8 829.9,559.9 827.5,563.0 C825.1,566.1 823.9,569.7 822.8,573.7 C821.7,577.7 820.9,581.8 820.8,587.0 C820.7,592.2 820.9,598.6 822.0,604.7 C823.1,610.8 825.0,617.3 827.5,623.6 C830.0,629.9 833.4,637.7 837.0,642.4 C840.6,647.1 845.8,650.5 849.0,651.9 C852.2,653.2 855.4,653.0 856.5,650.5 C857.6,648.0 856.8,642.8 855.8,637.0 C854.8,631.2 852.1,622.7 850.4,615.5 C848.7,608.3 846.6,601.0 845.7,594.0 C844.9,587.0 845.1,579.1 845.3,573.7 C845.5,568.3 846.2,565.4 847.0,561.6 C847.8,557.8 851.5,551.9 849.8,550.8 Z" fill="#7d9a52" stroke="#7d9a52" stroke-width="2.4" stroke-opacity="0.8"/>
<path d="M900.3,552.8 C899.4,551.9 894.7,552.7 890.9,553.5 C887.1,554.3 881.0,555.9 877.4,557.5 C873.8,559.1 871.3,560.0 869.3,562.9 C867.3,565.8 865.8,569.8 865.3,575.0 C864.8,580.2 865.3,587.1 866.6,593.9 C867.9,600.6 870.1,608.3 873.3,615.5 C876.4,622.7 881.5,631.6 885.5,637.0 C889.5,642.4 894.7,646.4 897.6,647.8 C900.5,649.1 902.5,647.8 903.0,645.1 C903.5,642.4 902.3,636.5 900.3,631.6 C898.3,626.7 893.5,621.3 890.9,615.5 C888.3,609.7 885.9,602.5 884.8,596.6 C883.7,590.8 883.5,585.1 884.1,580.4 C884.7,575.7 886.2,571.9 888.2,568.3 C890.2,564.7 894.3,561.5 896.3,558.9 C898.3,556.3 901.2,553.7 900.3,552.8 Z" fill="url(#gw)" stroke="#7d9a52" stroke-width="1.6" stroke-opacity="0.85"/>
<path d="M877.4,551.5 C877.1,549.9 870.4,552.3 866.6,553.5 C862.8,554.7 857.8,556.6 854.5,558.9 C851.2,561.1 848.7,563.4 847.0,567.0 C845.3,570.6 844.6,574.8 844.4,580.4 C844.2,586.0 844.5,593.4 845.7,600.6 C846.9,607.8 849.2,616.6 851.8,623.6 C854.4,630.6 857.6,637.7 861.2,642.4 C864.8,647.1 870.7,650.5 873.3,651.9 C875.9,653.2 876.2,653.4 876.7,650.5 C877.2,647.6 877.2,640.6 876.0,634.3 C874.8,628.0 871.1,620.0 869.3,612.8 C867.5,605.6 866.0,597.5 865.3,591.2 C864.6,584.9 864.8,579.7 865.3,575.0 C865.8,570.3 866.6,566.8 868.6,562.9 C870.6,559.0 877.7,553.1 877.4,551.5 Z" fill="url(#gw)" stroke="#7d9a52" stroke-width="1.6" stroke-opacity="0.85"/>
<path d="M849.8,550.8 C848.1,549.7 840.7,552.8 837.0,554.8 C833.3,556.8 829.9,559.9 827.5,563.0 C825.1,566.1 823.9,569.7 822.8,573.7 C821.7,577.7 820.9,581.8 820.8,587.0 C820.7,592.2 820.9,598.6 822.0,604.7 C823.1,610.8 825.0,617.3 827.5,623.6 C830.0,629.9 833.4,637.7 837.0,642.4 C840.6,647.1 845.8,650.5 849.0,651.9 C852.2,653.2 855.4,653.0 856.5,650.5 C857.6,648.0 856.8,642.8 855.8,637.0 C854.8,631.2 852.1,622.7 850.4,615.5 C848.7,608.3 846.6,601.0 845.7,594.0 C844.9,587.0 845.1,579.1 845.3,573.7 C845.5,568.3 846.2,565.4 847.0,561.6 C847.8,557.8 851.5,551.9 849.8,550.8 Z" fill="url(#gw)" stroke="#7d9a52" stroke-width="1.6" stroke-opacity="0.85"/>
<path d="M814.9,725.9 C813.8,725.0 806.8,724.3 802.8,724.5 C798.8,724.7 794.0,725.5 790.6,727.2 C787.2,728.9 784.5,730.9 782.6,734.6 C780.7,738.3 779.4,743.6 779.2,749.5 C779.0,755.4 779.7,763.2 781.2,769.7 C782.7,776.2 784.9,782.8 788.0,788.6 C791.1,794.4 795.8,800.7 800.1,804.7 C804.4,808.7 811.0,812.3 813.6,812.8 C816.2,813.2 815.6,810.1 815.6,807.4 C815.6,804.7 815.3,801.1 813.6,796.6 C811.9,792.1 807.8,786.3 805.5,780.5 C803.2,774.7 801.1,767.0 800.1,761.6 C799.1,756.2 799.0,752.2 799.4,748.1 C799.8,744.0 801.1,740.3 802.8,737.3 C804.5,734.3 807.5,731.8 809.5,729.9 C811.5,728.0 816.0,726.8 814.9,725.9 Z" fill="#5e6a38" stroke="#5e6a38" stroke-width="2.4" stroke-opacity="0.8"/>
<path d="M789.3,721.2 C787.9,720.4 781.0,720.0 777.2,720.5 C773.4,721.0 769.2,722.0 766.4,723.9 C763.6,725.8 761.6,728.0 760.3,732.0 C758.9,736.0 758.2,741.4 758.3,748.1 C758.4,754.8 759.2,764.3 761.0,772.4 C762.8,780.5 766.2,790.3 769.1,796.6 C772.0,802.9 775.6,807.3 778.5,810.1 C781.4,812.9 784.8,813.5 786.6,813.5 C788.4,813.5 789.1,813.6 789.3,810.1 C789.5,806.6 789.4,799.3 788.0,792.6 C786.6,785.9 782.8,777.1 781.2,769.7 C779.6,762.3 778.5,754.4 778.5,748.1 C778.5,741.8 780.1,735.8 781.2,732.0 C782.3,728.2 783.9,727.0 785.3,725.2 C786.6,723.4 790.6,722.0 789.3,721.2 Z" fill="#5e6a38" stroke="#5e6a38" stroke-width="2.4" stroke-opacity="0.8"/>
<path d="M762.3,717.8 C761.2,716.2 756.0,717.7 752.9,718.5 C749.8,719.3 746.0,719.8 743.5,722.5 C741.0,725.2 739.3,729.6 738.1,734.6 C736.9,739.6 736.1,745.9 736.1,752.2 C736.1,758.5 736.7,765.7 738.1,772.4 C739.5,779.1 741.9,786.3 744.8,792.6 C747.7,798.9 752.5,805.8 755.6,810.1 C758.8,814.4 761.6,817.3 763.7,818.2 C765.8,819.1 767.5,817.5 768.4,815.5 C769.3,813.5 769.9,811.0 769.1,806.1 C768.3,801.2 765.4,793.3 763.7,785.9 C762.0,778.5 759.9,768.8 759.0,761.6 C758.1,754.4 758.2,748.3 758.3,742.7 C758.4,737.1 758.9,732.0 759.6,727.9 C760.3,723.8 763.4,719.4 762.3,717.8 Z" fill="#5e6a38" stroke="#5e6a38" stroke-width="2.4" stroke-opacity="0.8"/>
<path d="M814.9,725.9 C813.8,725.0 806.8,724.3 802.8,724.5 C798.8,724.7 794.0,725.5 790.6,727.2 C787.2,728.9 784.5,730.9 782.6,734.6 C780.7,738.3 779.4,743.6 779.2,749.5 C779.0,755.4 779.7,763.2 781.2,769.7 C782.7,776.2 784.9,782.8 788.0,788.6 C791.1,794.4 795.8,800.7 800.1,804.7 C804.4,808.7 811.0,812.3 813.6,812.8 C816.2,813.2 815.6,810.1 815.6,807.4 C815.6,804.7 815.3,801.1 813.6,796.6 C811.9,792.1 807.8,786.3 805.5,780.5 C803.2,774.7 801.1,767.0 800.1,761.6 C799.1,756.2 799.0,752.2 799.4,748.1 C799.8,744.0 801.1,740.3 802.8,737.3 C804.5,734.3 807.5,731.8 809.5,729.9 C811.5,728.0 816.0,726.8 814.9,725.9 Z" fill="url(#gr)" stroke="#5e6a38" stroke-width="1.6" stroke-opacity="0.85"/>
<path d="M789.3,721.2 C787.9,720.4 781.0,720.0 777.2,720.5 C773.4,721.0 769.2,722.0 766.4,723.9 C763.6,725.8 761.6,728.0 760.3,732.0 C758.9,736.0 758.2,741.4 758.3,748.1 C758.4,754.8 759.2,764.3 761.0,772.4 C762.8,780.5 766.2,790.3 769.1,796.6 C772.0,802.9 775.6,807.3 778.5,810.1 C781.4,812.9 784.8,813.5 786.6,813.5 C788.4,813.5 789.1,813.6 789.3,810.1 C789.5,806.6 789.4,799.3 788.0,792.6 C786.6,785.9 782.8,777.1 781.2,769.7 C779.6,762.3 778.5,754.4 778.5,748.1 C778.5,741.8 780.1,735.8 781.2,732.0 C782.3,728.2 783.9,727.0 785.3,725.2 C786.6,723.4 790.6,722.0 789.3,721.2 Z" fill="url(#gr)" stroke="#5e6a38" stroke-width="1.6" stroke-opacity="0.85"/>
<path d="M762.3,717.8 C761.2,716.2 756.0,717.7 752.9,718.5 C749.8,719.3 746.0,719.8 743.5,722.5 C741.0,725.2 739.3,729.6 738.1,734.6 C736.9,739.6 736.1,745.9 736.1,752.2 C736.1,758.5 736.7,765.7 738.1,772.4 C739.5,779.1 741.9,786.3 744.8,792.6 C747.7,798.9 752.5,805.8 755.6,810.1 C758.8,814.4 761.6,817.3 763.7,818.2 C765.8,819.1 767.5,817.5 768.4,815.5 C769.3,813.5 769.9,811.0 769.1,806.1 C768.3,801.2 765.4,793.3 763.7,785.9 C762.0,778.5 759.9,768.8 759.0,761.6 C758.1,754.4 758.2,748.3 758.3,742.7 C758.4,737.1 758.9,732.0 759.6,727.9 C760.3,723.8 763.4,719.4 762.3,717.8 Z" fill="url(#gr)" stroke="#5e6a38" stroke-width="1.6" stroke-opacity="0.85"/>
<path d="M292.4,581.0 C291.5,579.9 288.7,579.3 286.5,579.3 C284.3,579.3 281.2,579.7 279.0,581.0 C276.8,582.3 274.8,584.2 273.1,586.9 C271.4,589.6 269.6,593.6 268.9,597.0 C268.2,600.4 268.3,603.7 268.9,607.1 C269.4,610.5 270.7,614.2 272.2,617.2 C273.7,620.2 276.0,622.8 278.1,624.8 C280.2,626.8 283.2,629.0 284.9,629.4 C286.6,629.8 287.4,629.6 288.2,627.3 C289.0,625.0 289.3,619.6 289.5,615.5 C289.7,611.4 289.4,606.7 289.5,602.9 C289.6,599.1 289.9,595.6 290.3,592.8 C290.7,590.0 291.2,588.0 291.6,586.0 C292.0,584.0 293.2,582.1 292.4,581.0 Z" fill="#6a8a4a" stroke="#6a8a4a" stroke-width="2.4" stroke-opacity="0.8"/>
<path d="M273.1,580.2 C271.8,579.4 268.2,579.6 265.5,579.7 C262.8,579.8 259.6,580.0 257.1,581.0 C254.6,582.0 252.2,583.8 250.4,586.0 C248.6,588.2 246.9,591.7 246.1,594.5 C245.2,597.3 245.2,599.7 245.3,602.9 C245.5,606.1 246.0,610.8 247.0,613.8 C248.0,616.8 249.5,618.8 251.2,620.6 C252.9,622.4 255.0,623.8 257.1,624.8 C259.2,625.8 262.1,627.0 263.8,626.9 C265.6,626.8 267.1,626.4 267.6,623.9 C268.1,621.4 266.9,616.3 266.8,612.1 C266.7,607.9 266.7,602.5 267.2,598.7 C267.7,594.9 268.7,591.8 269.7,589.4 C270.7,587.0 272.5,585.9 273.1,584.4 C273.7,582.9 274.4,581.0 273.1,580.2 Z" fill="#6a8a4a" stroke="#6a8a4a" stroke-width="2.4" stroke-opacity="0.8"/>
<path d="M249.5,577.6 C248.5,577.3 245.3,578.2 242.8,579.3 C240.3,580.4 236.8,582.3 234.4,584.4 C232.0,586.5 229.9,589.1 228.5,591.9 C227.1,594.7 226.2,597.8 225.9,601.2 C225.6,604.6 226.0,608.9 226.8,612.1 C227.7,615.3 229.3,618.4 231.0,620.6 C232.7,622.9 235.3,624.6 236.9,625.6 C238.5,626.6 238.8,627.2 240.3,626.9 C241.8,626.6 244.9,625.1 246.1,623.9 C247.3,622.7 247.7,622.5 247.4,619.7 C247.1,616.9 245.0,611.3 244.5,607.1 C244.0,602.9 244.1,598.0 244.5,594.5 C244.9,591.0 246.3,588.2 247.0,586.0 C247.7,583.8 248.3,582.4 248.7,581.0 C249.1,579.6 250.5,577.9 249.5,577.6 Z" fill="#6a8a4a" stroke="#6a8a4a" stroke-width="2.4" stroke-opacity="0.8"/>
<path d="M292.4,581.0 C291.5,579.9 288.7,579.3 286.5,579.3 C284.3,579.3 281.2,579.7 279.0,581.0 C276.8,582.3 274.8,584.2 273.1,586.9 C271.4,589.6 269.6,593.6 268.9,597.0 C268.2,600.4 268.3,603.7 268.9,607.1 C269.4,610.5 270.7,614.2 272.2,617.2 C273.7,620.2 276.0,622.8 278.1,624.8 C280.2,626.8 283.2,629.0 284.9,629.4 C286.6,629.8 287.4,629.6 288.2,627.3 C289.0,625.0 289.3,619.6 289.5,615.5 C289.7,611.4 289.4,606.7 289.5,602.9 C289.6,599.1 289.9,595.6 290.3,592.8 C290.7,590.0 291.2,588.0 291.6,586.0 C292.0,584.0 293.2,582.1 292.4,581.0 Z" fill="url(#gs)" stroke="#6a8a4a" stroke-width="1.6" stroke-opacity="0.85"/>
<path d="M273.1,580.2 C271.8,579.4 268.2,579.6 265.5,579.7 C262.8,579.8 259.6,580.0 257.1,581.0 C254.6,582.0 252.2,583.8 250.4,586.0 C248.6,588.2 246.9,591.7 246.1,594.5 C245.2,597.3 245.2,599.7 245.3,602.9 C245.5,606.1 246.0,610.8 247.0,613.8 C248.0,616.8 249.5,618.8 251.2,620.6 C252.9,622.4 255.0,623.8 257.1,624.8 C259.2,625.8 262.1,627.0 263.8,626.9 C265.6,626.8 267.1,626.4 267.6,623.9 C268.1,621.4 266.9,616.3 266.8,612.1 C266.7,607.9 266.7,602.5 267.2,598.7 C267.7,594.9 268.7,591.8 269.7,589.4 C270.7,587.0 272.5,585.9 273.1,584.4 C273.7,582.9 274.4,581.0 273.1,580.2 Z" fill="url(#gs)" stroke="#6a8a4a" stroke-width="1.6" stroke-opacity="0.85"/>
<path d="M249.5,577.6 C248.5,577.3 245.3,578.2 242.8,579.3 C240.3,580.4 236.8,582.3 234.4,584.4 C232.0,586.5 229.9,589.1 228.5,591.9 C227.1,594.7 226.2,597.8 225.9,601.2 C225.6,604.6 226.0,608.9 226.8,612.1 C227.7,615.3 229.3,618.4 231.0,620.6 C232.7,622.9 235.3,624.6 236.9,625.6 C238.5,626.6 238.8,627.2 240.3,626.9 C241.8,626.6 244.9,625.1 246.1,623.9 C247.3,622.7 247.7,622.5 247.4,619.7 C247.1,616.9 245.0,611.3 244.5,607.1 C244.0,602.9 244.1,598.0 244.5,594.5 C244.9,591.0 246.3,588.2 247.0,586.0 C247.7,583.8 248.3,582.4 248.7,581.0 C249.1,579.6 250.5,577.9 249.5,577.6 Z" fill="url(#gs)" stroke="#6a8a4a" stroke-width="1.6" stroke-opacity="0.85"/>
<path d="M392.3,742.6 C391.6,741.4 388.8,740.5 386.1,740.0 C383.5,739.5 379.3,739.0 376.4,739.6 C373.5,740.2 370.7,741.5 368.5,743.5 C366.3,745.5 364.4,748.4 363.2,751.5 C362.0,754.6 361.4,758.2 361.4,762.0 C361.4,765.8 361.9,770.6 363.2,774.4 C364.5,778.2 367.0,782.4 369.4,785.0 C371.8,787.6 374.7,789.0 377.3,790.3 C379.9,791.6 383.6,793.2 385.2,792.9 C386.8,792.6 386.6,791.0 387.0,788.5 C387.4,786.0 387.4,781.6 387.5,777.9 C387.6,774.2 387.7,770.1 387.9,766.4 C388.1,762.7 388.4,759.1 388.8,755.9 C389.2,752.7 389.9,749.2 390.5,747.0 C391.1,744.8 393.0,743.8 392.3,742.6 Z" fill="#6a8c4c" stroke="#6a8c4c" stroke-width="2.4" stroke-opacity="0.8"/>
<path d="M363.2,739.1 C362.2,738.5 360.5,740.3 357.9,740.9 C355.2,741.5 350.2,741.3 347.3,742.6 C344.4,743.9 341.9,745.8 340.3,748.8 C338.7,751.8 337.9,756.5 337.6,760.3 C337.3,764.1 337.6,768.0 338.5,771.7 C339.4,775.4 341.0,779.3 342.9,782.3 C344.8,785.2 347.5,787.8 350.0,789.4 C352.5,791.0 355.7,792.0 357.9,792.0 C360.1,792.0 362.2,791.2 363.2,789.4 C364.2,787.6 364.5,784.5 364.1,781.4 C363.7,778.3 361.6,774.4 361.0,770.9 C360.4,767.4 360.5,763.5 360.6,760.3 C360.8,757.1 361.4,754.1 361.9,751.5 C362.4,748.9 363.4,746.5 363.6,744.4 C363.8,742.3 364.1,739.7 363.2,739.1 Z" fill="#6a8c4c" stroke="#6a8c4c" stroke-width="2.4" stroke-opacity="0.8"/>
<path d="M343.8,740.0 C342.7,739.3 338.7,738.2 335.9,738.2 C333.1,738.2 329.8,738.8 327.0,740.0 C324.2,741.2 321.3,742.9 319.1,745.3 C316.9,747.6 314.8,750.9 313.8,754.1 C312.8,757.3 312.4,760.9 312.9,764.7 C313.3,768.5 314.7,773.3 316.5,777.0 C318.3,780.7 320.6,784.4 323.5,786.7 C326.4,789.1 331.5,790.8 334.1,791.1 C336.8,791.4 338.4,790.0 339.4,788.5 C340.4,787.0 340.8,785.5 340.3,782.3 C339.9,779.1 337.4,773.5 336.7,769.1 C336.0,764.7 335.4,759.6 335.9,755.9 C336.3,752.2 338.3,749.2 339.4,747.0 C340.5,744.8 341.8,743.8 342.5,742.6 C343.2,741.4 344.9,740.7 343.8,740.0 Z" fill="#6a8c4c" stroke="#6a8c4c" stroke-width="2.4" stroke-opacity="0.8"/>
<path d="M392.3,742.6 C391.6,741.4 388.8,740.5 386.1,740.0 C383.5,739.5 379.3,739.0 376.4,739.6 C373.5,740.2 370.7,741.5 368.5,743.5 C366.3,745.5 364.4,748.4 363.2,751.5 C362.0,754.6 361.4,758.2 361.4,762.0 C361.4,765.8 361.9,770.6 363.2,774.4 C364.5,778.2 367.0,782.4 369.4,785.0 C371.8,787.6 374.7,789.0 377.3,790.3 C379.9,791.6 383.6,793.2 385.2,792.9 C386.8,792.6 386.6,791.0 387.0,788.5 C387.4,786.0 387.4,781.6 387.5,777.9 C387.6,774.2 387.7,770.1 387.9,766.4 C388.1,762.7 388.4,759.1 388.8,755.9 C389.2,752.7 389.9,749.2 390.5,747.0 C391.1,744.8 393.0,743.8 392.3,742.6 Z" fill="url(#gb)" stroke="#6a8c4c" stroke-width="1.6" stroke-opacity="0.85"/>
<path d="M363.2,739.1 C362.2,738.5 360.5,740.3 357.9,740.9 C355.2,741.5 350.2,741.3 347.3,742.6 C344.4,743.9 341.9,745.8 340.3,748.8 C338.7,751.8 337.9,756.5 337.6,760.3 C337.3,764.1 337.6,768.0 338.5,771.7 C339.4,775.4 341.0,779.3 342.9,782.3 C344.8,785.2 347.5,787.8 350.0,789.4 C352.5,791.0 355.7,792.0 357.9,792.0 C360.1,792.0 362.2,791.2 363.2,789.4 C364.2,787.6 364.5,784.5 364.1,781.4 C363.7,778.3 361.6,774.4 361.0,770.9 C360.4,767.4 360.5,763.5 360.6,760.3 C360.8,757.1 361.4,754.1 361.9,751.5 C362.4,748.9 363.4,746.5 363.6,744.4 C363.8,742.3 364.1,739.7 363.2,739.1 Z" fill="url(#gb)" stroke="#6a8c4c" stroke-width="1.6" stroke-opacity="0.85"/>
<path d="M343.8,740.0 C342.7,739.3 338.7,738.2 335.9,738.2 C333.1,738.2 329.8,738.8 327.0,740.0 C324.2,741.2 321.3,742.9 319.1,745.3 C316.9,747.6 314.8,750.9 313.8,754.1 C312.8,757.3 312.4,760.9 312.9,764.7 C313.3,768.5 314.7,773.3 316.5,777.0 C318.3,780.7 320.6,784.4 323.5,786.7 C326.4,789.1 331.5,790.8 334.1,791.1 C336.8,791.4 338.4,790.0 339.4,788.5 C340.4,787.0 340.8,785.5 340.3,782.3 C339.9,779.1 337.4,773.5 336.7,769.1 C336.0,764.7 335.4,759.6 335.9,755.9 C336.3,752.2 338.3,749.2 339.4,747.0 C340.5,744.8 341.8,743.8 342.5,742.6 C343.2,741.4 344.9,740.7 343.8,740.0 Z" fill="url(#gb)" stroke="#6a8c4c" stroke-width="1.6" stroke-opacity="0.85"/>
<line x1="572.2" y1="651.8" x2="567.9" y2="657.2" stroke="#e3001b" stroke-width="3.4" stroke-linecap="butt"/>
<line x1="491.2" y1="652.8" x2="486.3" y2="657.2" stroke="#e3001b" stroke-width="3.4" stroke-linecap="butt"/>
<line x1="613.5" y1="682.5" x2="608.2" y2="687.8" stroke="#e3001b" stroke-width="3.4" stroke-linecap="butt"/>
<line x1="537.3" y1="682.9" x2="532.4" y2="687.8" stroke="#e3001b" stroke-width="3.4" stroke-linecap="butt"/>
<line x1="405.8" y1="426.0" x2="402.2" y2="429.0" stroke="#000" stroke-width="3" stroke-linecap="round"/>
<line x1="740.4" y1="421.0" x2="736.8" y2="424.0" stroke="#000" stroke-width="3" stroke-linecap="round"/>
<text transform="scale(-1,1)" x="-436.24" y="74.6" font-size="20.40" font-weight="bold" fill="#000" stroke="#000" stroke-width="0.5" textLength="93.88" lengthAdjust="spacingAndGlyphs">MaSPL4/5</text>
<text transform="scale(-1,1)" x="-400.60" y="119.6" font-size="20.40" font-weight="bold" fill="#000" stroke="#000" stroke-width="0.5" textLength="93.84" lengthAdjust="spacingAndGlyphs">MaSPL4/5</text>
<text transform="scale(-1,1)" x="-527.26" y="113.3" font-size="20.40" font-weight="bold" fill="#000" stroke="#000" stroke-width="0.5" textLength="93.71" lengthAdjust="spacingAndGlyphs">MaSPL4/5</text>
<text transform="scale(-1,1)" x="-551.24" y="160.1" font-size="20.40" font-weight="bold" fill="#000" stroke="#000" stroke-width="0.5" textLength="93.88" lengthAdjust="spacingAndGlyphs">MaSPL4/5</text>
<text transform="scale(-1,1)" x="-860.05" y="110.7" font-size="20.40" font-weight="bold" fill="#000" stroke="#000" stroke-width="0.5" textLength="93.28" lengthAdjust="spacingAndGlyphs">MaSPL4/5</text>
<text transform="scale(-1,1)" x="-890.05" y="161.0" font-size="20.40" font-weight="bold" fill="#000" stroke="#000" stroke-width="0.5" textLength="93.28" lengthAdjust="spacingAndGlyphs">MaSPL4/5</text>
<text transform="scale(-1,1)" x="-214.71" y="184.4" font-size="28.00" font-weight="bold" fill="#7030a0" stroke="#7030a0" stroke-width="0.4" textLength="130.74" lengthAdjust="spacingAndGlyphs">B genome</text>
<text transform="scale(-1,1)" x="-1031.22" y="181.6" font-size="28.00" font-weight="bold" fill="#1f4e79" stroke="#1f4e79" stroke-width="0.4" textLength="131.54" lengthAdjust="spacingAndGlyphs">A genome</text>
<text transform="scale(-1,1) translate(0,217.2) skewX(-18) translate(0,-217.2)" x="-368.27" y="217.2" font-size="27.50" font-weight="normal" fill="#000" stroke="#000" stroke-width="0.0" textLength="132.49" lengthAdjust="spacingAndGlyphs">Cu-MIRNA</text>
<text transform="scale(-1,1) translate(0,217.5) skewX(-18) translate(0,-217.5)" x="-708.27" y="217.5" font-size="27.50" font-weight="normal" fill="#000" stroke="#000" stroke-width="0.0" textLength="131.49" lengthAdjust="spacingAndGlyphs">Cu-MIRNA</text>
<text transform="scale(-1,1)" x="-448.41" y="281.0" font-size="28.00" font-weight="normal" fill="#000" stroke="#000" stroke-width="0.3" textLength="129.22" lengthAdjust="spacingAndGlyphs">Cu-miRNA</text>
<text transform="scale(-1,1)" x="-792.94" y="277.6" font-size="28.00" font-weight="normal" fill="#000" stroke="#000" stroke-width="0.3" textLength="128.87" lengthAdjust="spacingAndGlyphs">Cu-miRNA</text>
<text transform="scale(-1,1) translate(0,427.9) skewX(-14) translate(0,-427.9)" x="-384.23" y="427.9" font-size="24.70" font-weight="bold" fill="#000" stroke="#000" stroke-width="0.6" textLength="79.51" lengthAdjust="spacingAndGlyphs">MaPPO</text>
<text transform="scale(-1,1) translate(0,427.9) skewX(-14) translate(0,-427.9)" x="-485.89" y="427.9" font-size="24.70" font-weight="bold" fill="#000" stroke="#000" stroke-width="0.6" textLength="77.80" lengthAdjust="spacingAndGlyphs">MaLAC</text>
<text transform="scale(-1,1) translate(0,422.9) skewX(-14) translate(0,-422.9)" x="-719.24" y="422.9" font-size="24.70" font-weight="bold" fill="#000" stroke="#000" stroke-width="0.6" textLength="79.85" lengthAdjust="spacingAndGlyphs">MaPPO</text>
<text transform="scale(-1,1) translate(0,422.9) skewX(-14) translate(0,-422.9)" x="-820.68" y="422.9" font-size="24.70" font-weight="bold" fill="#000" stroke="#000" stroke-width="0.6" textLength="78.18" lengthAdjust="spacingAndGlyphs">MaLAC</text>
<text transform="scale(-1,1)" x="-664.42" y="567.0" font-size="37.90" font-weight="bold" fill="#000" stroke="#000" stroke-width="0.7" textLength="199.25" lengthAdjust="spacingAndGlyphs">Antioxidant</text>
<text transform="scale(-1,1)" x="-628.61" y="610.8" font-size="37.90" font-weight="bold" fill="#000" stroke="#000" stroke-width="0.7" textLength="128.33" lengthAdjust="spacingAndGlyphs">System</text>
<text transform="scale(-1,1)" x="-659.96" y="654.5" font-size="26.00" font-weight="bold" fill="#e3001b" stroke="#e3001b" stroke-width="0.9" textLength="83.64" lengthAdjust="spacingAndGlyphs">Proline</text>
<text transform="scale(-1,1)" x="-546.79" y="654.5" font-size="26.00" font-weight="bold" fill="#e3001b" stroke="#e3001b" stroke-width="0.9" textLength="52.12" lengthAdjust="spacingAndGlyphs">GSH</text>
<text transform="scale(-1,1)" x="-670.12" y="685.4" font-size="26.00" font-weight="bold" fill="#e3001b" stroke="#e3001b" stroke-width="0.9" textLength="52.59" lengthAdjust="spacingAndGlyphs">SOD</text>
<text transform="scale(-1,1)" x="-588.08" y="685.4" font-size="26.00" font-weight="bold" fill="#e3001b" stroke="#e3001b" stroke-width="0.9" textLength="47.27" lengthAdjust="spacingAndGlyphs">CAT</text>
<text transform="scale(-1,1)" x="-511.78" y="685.4" font-size="26.00" font-weight="bold" fill="#e3001b" stroke="#e3001b" stroke-width="0.9" textLength="52.89" lengthAdjust="spacingAndGlyphs">POD</text>
<text transform="scale(-1,1)" x="-394.15" y="621.0" font-size="26.50" font-weight="bold" fill="#5c2d91" stroke="#5c2d91" stroke-width="0.5" textLength="83.40" lengthAdjust="spacingAndGlyphs">strong</text>
<text transform="scale(-1,1)" x="-799.77" y="626.3" font-size="27.50" font-weight="bold" fill="#1f6fc0" stroke="#1f6fc0" stroke-width="0.5" textLength="65.33" lengthAdjust="spacingAndGlyphs">weak</text>
<text transform="scale(-1,1)" x="-660.22" y="808.5" font-size="33.00" font-weight="bold" fill="#bb0018" stroke="#bb0018" stroke-width="0.7" textLength="196.55" lengthAdjust="spacingAndGlyphs">Difference in</text>
<text transform="scale(-1,1)" x="-672.52" y="848.0" font-size="33.00" font-weight="bold" fill="#bb0018" stroke="#bb0018" stroke-width="0.7" textLength="221.53" lengthAdjust="spacingAndGlyphs">cold tolerance</text>
</svg>
</body></html>
